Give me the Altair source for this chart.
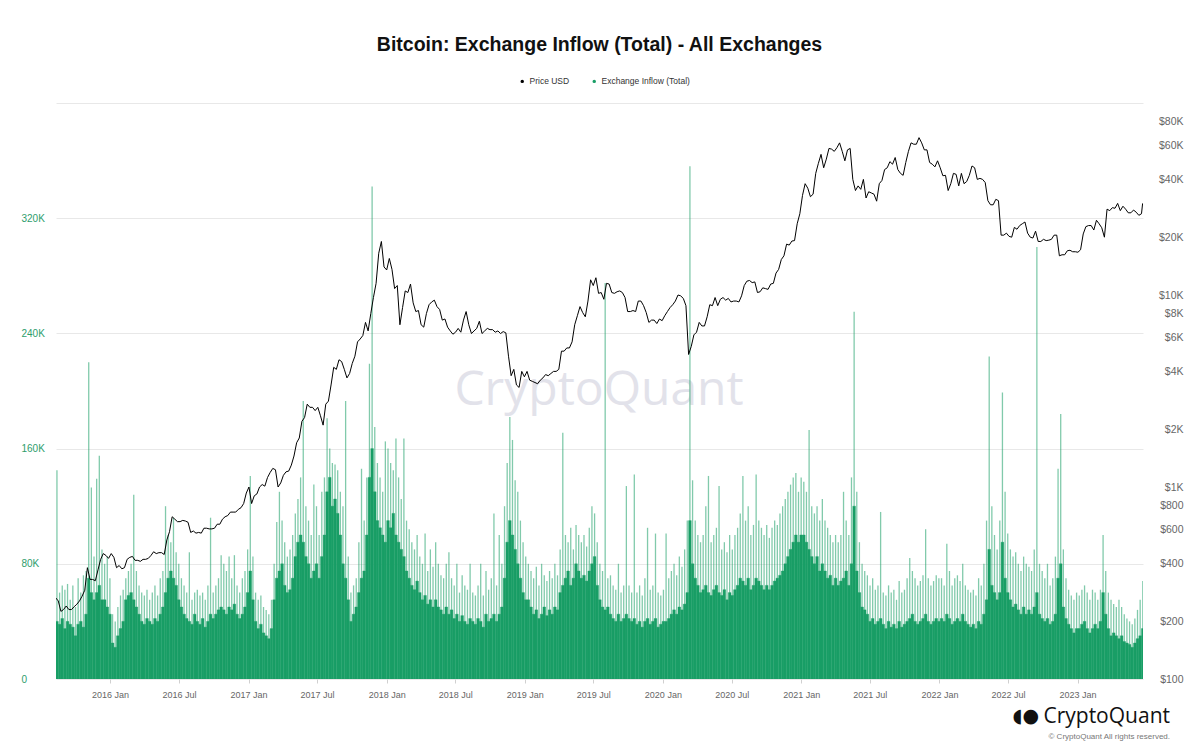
import altair as alt
import pandas as pd

# ---------------- data (weekly) ----------------
# Bitcoin price, USD, one value per Monday
PRICE_2015 = [265, 255, 225, 230, 240, 230, 230, 238, 245, 255, 270, 290, 380, 330, 330, 325, 370, 420, 450, 440, 425]
PRICE_2016 = [450, 430, 380, 390, 375, 380, 420, 430, 435, 415, 415, 410, 420, 420, 425, 440, 460,
              450, 455, 455, 445, 530, 585, 700, 680, 660, 660, 670, 665, 655, 580, 590, 575, 580, 575,
              610, 610, 605, 605, 610, 640, 640, 680, 700, 710, 740, 740, 740, 765, 780, 820, 930]
PRICE_2017 = [1000, 820, 900, 920, 1000, 1030, 1010, 1120, 1190, 1250, 1230, 1000, 1050, 1150, 1200, 1210, 1300,
              1450, 1700, 1800, 2200, 2300, 2700, 2600, 2600, 2500, 2600, 2350, 2100, 2700, 2800,
              3400, 4200, 4100, 4600, 4500, 4100, 3700, 3900, 4400, 4800, 5700, 5900, 6150,
              7200, 6500, 8000, 9700, 11500, 16500, 19000, 14000]
PRICE_2018 = [13500, 15500, 13600, 10800, 11200, 7000, 8600, 10500, 10300, 11400, 9100, 8200, 8300,
              7000, 6800, 8000, 8900, 9200, 9400, 8700, 8400, 7400, 7500, 6800, 6500, 6250,
              6400, 6700, 6400, 7400, 8200, 7000, 6300, 6500, 6700, 7300, 6300, 6500, 6700,
              6600, 6600, 6400, 6500, 6300, 6450, 6350, 4800, 3800, 4100, 3400, 3300, 4000, 3750]
PRICE_2019 = [4000, 3600, 3550, 3500, 3450, 3600, 3700, 3850, 3800, 3900, 4000, 4000,
              4100, 5100, 5100, 5300, 5300, 5700, 7000, 7800, 8700, 8100, 7700, 9300, 12000,
              11200, 12300, 10200, 10300, 9500, 11500, 11400, 10300, 10200, 10400, 10500, 10300, 9700, 8200,
              8200, 8300, 8200, 9300, 9300, 8800, 8100, 7200, 7400, 7400, 7100, 7500, 7350]
PRICE_2020 = [7800, 8200, 8600, 8900, 9300, 10000, 9900, 9600, 8800, 4900, 5400, 6200, 6400,
              7200, 6900, 6900, 7700, 8900, 8800, 9700, 8800, 9500, 9700, 9400, 9600, 9200,
              9300, 9300, 9200, 9900, 11200, 11800, 11900, 11600, 11700, 10300, 10400, 10900, 10800,
              10700, 11400, 11500, 13000, 13600, 15300, 16000, 18400, 18200, 19100, 19200, 23500, 26500]
PRICE_2021 = [33000, 38000, 36000, 32500, 33500, 43000, 48500, 54000, 46000, 51000, 58000, 57500, 56000,
              58500, 62000, 56000, 50000, 57000, 58000, 40000, 35000, 37000, 35500, 40000, 32000, 34500,
              34000, 33500, 30800, 38000, 39500, 45000, 46000, 49500, 48000, 52000, 45000, 43000, 42000,
              49000, 56000, 62000, 61000, 61000, 66000, 62000, 57000, 57000, 49000, 48000, 46500, 50000]
PRICE_2022 = [46000, 41800, 42000, 35000, 38000, 43000, 42500, 37000, 43000, 38000, 39000, 42000, 47000,
              46000, 40000, 40500, 40000, 38500, 31000, 29500, 29500, 31500, 31000, 20500, 20500, 21000,
              20200, 20000, 22500, 22000, 23000, 23500, 24000, 21000, 20000, 19800, 21500, 19000, 19000,
              19500, 19200, 19300, 19500, 20500, 20500, 16000, 16200, 16200, 17000, 17100, 16800, 16800]
PRICE_2023 = [16700, 17200, 20800, 22700, 23000, 23000, 21800, 24500, 23500, 22400, 20000, 28000, 27500,
              28500, 28300, 30000, 27500, 29000, 28000, 26800, 26800, 27700, 27000, 26000, 26500]
PRICE_LAST_DAY = "2023-06-22"
PRICE_LAST = 30000

# Exchange inflow, thousand BTC: typical daily level of the week and the week's largest day
BASE_2015 = [40, 38, 42, 35, 40, 38, 36, 30, 38, 40, 36, 45, 70, 60, 55, 60, 65, 55, 55, 50, 45]
PEAK_2015 = [145, 60, 65, 62, 66, 55, 65, 50, 70, 60, 72, 75, 220, 133, 85, 139, 155, 90, 80, 85, 70]
BASE_2016 = [25, 22, 30, 35, 40, 55, 58, 60, 55, 50, 45, 40, 38, 42, 40, 38, 42, 40, 45, 50, 60, 70, 75, 70, 65, 55,
             50, 45, 42, 40, 38, 45, 40, 38, 42, 36, 40, 45, 42, 45, 48, 50, 48, 45, 50, 48, 52, 45, 42, 45, 50, 60]
PEAK_2016 = [45, 40, 50, 58, 62, 70, 75, 80, 128, 75, 65, 60, 58, 62, 55, 60, 65, 58, 70, 75, 120, 100, 95, 112, 88, 80,
             70, 65, 60, 88, 55, 60, 62, 58, 60, 55, 65, 112, 60, 65, 70, 86, 80, 75, 85, 70, 86, 65, 60, 70, 75, 90]
BASE_2017 = [75, 55, 40, 35, 38, 32, 30, 28, 35, 55, 70, 75, 80, 65, 60, 62, 70, 85, 95, 100, 95, 85, 80, 70, 75, 80,
             70, 85, 100, 130, 140, 120, 125, 115, 100, 80, 70, 55, 40, 45, 50, 60, 70, 75, 100, 140, 160, 130, 110, 105, 100, 95]
PEAK_2017 = [141, 85, 60, 55, 58, 50, 48, 45, 55, 80, 109, 130, 110, 95, 85, 90, 100, 115, 125, 140, 193, 120, 110, 100, 135, 120,
             100, 130, 140, 181, 160, 150, 149, 145, 130, 120, 193, 85, 60, 65, 70, 95, 146, 110, 140, 219, 342, 175, 150, 140, 130, 165]
BASE_2018 = [110, 105, 115, 100, 95, 90, 85, 75, 70, 65, 62, 68, 60, 55, 58, 52, 55, 50, 55, 50, 48, 45, 50, 45, 48, 42, 45,
             40, 44, 40, 38, 42, 40, 38, 42, 40, 36, 45, 40, 42, 45, 40, 45, 50, 70, 95, 110, 100, 90, 80, 70, 60, 55]
PEAK_2018 = [160, 150, 145, 167, 140, 125, 167, 110, 104, 95, 90, 100, 85, 80, 101, 75, 90, 78, 95, 80, 72, 70, 80, 88, 70, 65, 80,
             60, 72, 65, 62, 80, 60, 58, 65, 80, 58, 75, 62, 70, 115, 65, 100, 80, 120, 150, 182, 166, 138, 130, 110, 95, 85]
BASE_2019 = [55, 50, 45, 48, 42, 45, 50, 44, 48, 45, 50, 48, 60, 65, 70, 75, 65, 70, 80, 75, 70, 72, 68, 75, 80, 85,
             65, 55, 50, 48, 50, 45, 42, 40, 45, 40, 42, 45, 42, 40, 42, 38, 40, 36, 40, 42, 38, 40, 42, 36, 38, 40]
PEAK_2019 = [80, 75, 70, 78, 65, 80, 72, 68, 75, 70, 80, 72, 90, 171, 100, 95, 105, 90, 107, 100, 95, 100, 92, 105, 120, 115,
             95, 80, 75, 275, 70, 72, 65, 62, 80, 60, 65, 134, 65, 60, 142, 60, 65, 58, 70, 105, 62, 65, 101, 60, 58, 62]
BASE_2020 = [40, 42, 45, 48, 45, 50, 48, 52, 60, 110, 80, 70, 65, 60, 62, 65, 60, 58, 62, 65, 60, 58, 62, 55, 60, 58,
             62, 65, 70, 68, 65, 70, 62, 65, 70, 68, 65, 62, 65, 62, 65, 68, 70, 72, 75, 80, 85, 90, 95, 100, 95, 100]
PEAK_2020 = [101, 70, 75, 80, 72, 85, 78, 90, 110, 356, 138, 110, 100, 95, 100, 120, 141, 95, 100, 105, 134, 90, 95, 88, 100, 90,
             100, 105, 115, 141, 110, 120, 100, 107, 142, 110, 105, 100, 107, 98, 105, 110, 107, 115, 120, 125, 130, 135, 140, 143, 130, 140]
BASE_2021 = [100, 95, 90, 85, 80, 85, 75, 80, 75, 70, 72, 65, 70, 65, 68, 70, 75, 65, 80, 120, 75, 60, 50, 48, 45, 40,
             42, 38, 40, 42, 38, 35, 40, 36, 38, 35, 40, 36, 38, 40, 42, 45, 40, 38, 40, 42, 45, 40, 38, 40, 42, 40]
PEAK_2021 = [137, 130, 173, 120, 115, 120, 110, 125, 110, 105, 100, 95, 100, 95, 100, 130, 110, 100, 140, 255, 130, 95, 80, 75, 72, 65,
             70, 62, 65, 116, 60, 58, 65, 60, 62, 55, 68, 60, 62, 70, 84, 75, 70, 65, 68, 72, 104, 70, 65, 68, 72, 70]
BASE_2022 = [42, 40, 45, 42, 38, 40, 42, 40, 45, 40, 38, 36, 38, 35, 40, 38, 45, 55, 90, 65, 60, 55, 60, 95, 70, 60,
             55, 50, 52, 48, 45, 50, 45, 48, 45, 50, 60, 45, 42, 40, 42, 38, 40, 45, 70, 80, 50, 42, 38, 35, 32, 35]
PEAK_2022 = [70, 65, 94, 75, 65, 70, 72, 68, 80, 65, 62, 60, 62, 58, 70, 65, 80, 110, 224, 120, 100, 90, 110, 199, 130, 101,
             90, 85, 88, 80, 75, 85, 80, 78, 75, 90, 300, 80, 75, 70, 80, 65, 70, 85, 146, 184, 90, 70, 62, 58, 55, 60]
BASE_2023 = [35, 38, 40, 35, 32, 35, 38, 35, 40, 60, 45, 35, 30, 32, 30, 28, 30, 26, 25, 24, 22, 25, 28, 30, 35]
PEAK_2023 = [58, 62, 65, 60, 55, 62, 60, 55, 62, 100, 75, 60, 55, 52, 50, 55, 50, 45, 42, 40, 38, 42, 48, 55, 68]

FIRST_WEEK = "2015-08-10"
LAST_WEEK = "2023-06-19"
X_START = (2015, 8, 11)
X_END = (2023, 6, 23)

LEFT_TICKS = [0, 80000, 160000, 240000, 320000, 400000]
RIGHT_TICKS = [100, 200, 400, 600, 800, 1000, 2000, 4000, 6000, 8000,
               10000, 20000, 40000, 60000, 80000]

TITLE = "Bitcoin: Exchange Inflow (Total) - All Exchanges"
SERIES = ["Price USD", "Exchange Inflow (Total)"]
WATERMARK = "CryptoQuant"
LOGO = "CryptoQuant"
COPYRIGHT = "© CryptoQuant All rights reserved."

# ---------------- build tables ----------------
YEARS = {
    2015: (PRICE_2015, BASE_2015, PEAK_2015), 2016: (PRICE_2016, BASE_2016, PEAK_2016),
    2017: (PRICE_2017, BASE_2017, PEAK_2017), 2018: (PRICE_2018, BASE_2018, PEAK_2018),
    2019: (PRICE_2019, BASE_2019, PEAK_2019), 2020: (PRICE_2020, BASE_2020, PEAK_2020),
    2021: (PRICE_2021, BASE_2021, PEAK_2021), 2022: (PRICE_2022, BASE_2022, PEAK_2022),
    2023: (PRICE_2023, BASE_2023, PEAK_2023),
}
rows = []
for year, (pr, ba, pk) in YEARS.items():
    mondays = pd.date_range(f"{year}-01-01", f"{year}-12-31", freq="W-MON")
    mondays = mondays[(mondays >= FIRST_WEEK) & (mondays <= LAST_WEEK)]
    for d, p, b, k in zip(mondays, pr, ba, pk):
        rows.append({"date": d, "end": d + pd.Timedelta(days=7), "mid": d + pd.Timedelta(hours=84),
                     "price": p, "base": b * 1000, "peak": k * 1000})
bars = pd.DataFrame(rows)
line = pd.concat([bars[["date", "price"]],
                  pd.DataFrame({"date": [pd.Timestamp(PRICE_LAST_DAY)], "price": [PRICE_LAST]})],
                 ignore_index=True)

# ---------------- styling ----------------
GREEN = "#199e66"
FONT = "Liberation Sans"

xscale = alt.Scale(domain=[alt.DateTime(year=X_START[0], month=X_START[1], date=X_START[2]),
                           alt.DateTime(year=X_END[0], month=X_END[1], date=X_END[2])],
                   nice=False, padding=0)
xaxis = alt.Axis(title=None, format="%Y %b", tickCount={"interval": "month", "step": 6},
                 grid=False, domain=False, ticks=True, tickSize=4, tickColor="#d0d0d0",
                 labelPadding=7, labelFontSize=9, labelColor="#666666", labelFont=FONT)
yl_scale = alt.Scale(domain=[0, 400000], nice=False, padding=0)
yl_axis = alt.Axis(title=None, orient="left", values=LEFT_TICKS,
                   labelExpr="datum.value >= 400000 ? '' : (datum.value == 0 ? '0' : (datum.value / 1000) + 'K')",
                   grid=True, gridColor="#e8e8e8", gridWidth=1, domain=False, ticks=False, tickSize=0,
                   labelAlign="left", labelBaseline="middle", labelPadding=35,
                   labelFontSize=10, labelColor="#2e9d6c", labelFont=FONT)
yr_scale = alt.Scale(type="log", domain=[100, 100000], nice=False)
yr_axis = alt.Axis(title=None, orient="right", values=RIGHT_TICKS,
                   labelExpr="datum.value >= 1000 ? '$' + (datum.value / 1000) + 'K' : '$' + datum.value",
                   grid=False, domain=False, ticks=False, tickSize=0,
                   labelAlign="right", labelBaseline="middle", labelPadding=40,
                   labelFontSize=10.5, labelColor="#666666", labelFont=FONT)
cscale = alt.Scale(domain=SERIES, range=["#000000", GREEN])
legend = alt.Legend(title=None, orient="none", legendX=462, legendY=-26, direction="horizontal",
                    symbolType="circle", symbolSize=12, symbolStrokeWidth=0, symbolOpacity=1,
                    labelFontSize=8.5, labelColor="#333333", labelFont=FONT, columnPadding=20,
                    labelOffset=3)

title = alt.Chart(pd.DataFrame({"t": [TITLE]})).mark_text(
    font=FONT, fontSize=19.5, fontWeight="bold", color="#111111", align="center", baseline="middle"
).encode(text="t:N", x=alt.value(543.5), y=alt.value(-58))

watermark = alt.Chart(pd.DataFrame({"t": [WATERMARK]})).mark_text(
    font="Open Sans", fontSize=48, color="#e2e2ea", align="center", baseline="middle"
).encode(text="t:N", x=alt.value(543), y=alt.value(288))

peaks = alt.Chart(bars).mark_bar(color=GREEN, opacity=0.55, size=1.3, clip=True).encode(
    x=alt.X("mid:T", scale=xscale, axis=xaxis),
    y=alt.Y("peak:Q", scale=yl_scale, axis=yl_axis),
)
bases = alt.Chart(bars).mark_bar(stroke=GREEN, strokeWidth=0.4, clip=True).encode(
    x=alt.X("date:T", scale=xscale, axis=xaxis),
    x2="end:T",
    y=alt.Y("base:Q", scale=yl_scale, axis=yl_axis),
    y2=alt.datum(0),
    color=alt.Color("series:N", scale=cscale, legend=legend),
).transform_calculate(series="'Exchange Inflow (Total)'")

price = alt.Chart(line).mark_line(strokeWidth=1, clip=True).encode(
    x=alt.X("date:T", scale=xscale, axis=xaxis),
    y=alt.Y("price:Q", scale=yr_scale, axis=yr_axis),
    color=alt.Color("series:N", scale=cscale, legend=legend),
).transform_calculate(series="'Price USD'")

logo = alt.Chart(pd.DataFrame({"t": [LOGO]})).mark_text(
    font="Open Sans", fontSize=21, color="#111111", align="right", baseline="alphabetic"
).encode(text="t:N", x=alt.value(1114), y=alt.value(620))
icon = alt.Chart(pd.DataFrame({"t": ["◖●"]})).mark_text(
    font="DejaVu Sans", fontSize=19, color="#111111", align="right", baseline="alphabetic"
).encode(text="t:N", x=alt.value(983), y=alt.value(619))
copyright_ = alt.Chart(pd.DataFrame({"t": [COPYRIGHT]})).mark_text(
    font=FONT, fontSize=8, color="#777777", align="right", baseline="alphabetic"
).encode(text="t:N", x=alt.value(1114), y=alt.value(636))

chart = alt.layer(
    watermark, alt.layer(peaks, bases), price, title, logo, icon, copyright_
).resolve_scale(y="independent").properties(
    width=1087, height=576,
    autosize=alt.AutoSizeParams(type="none"),
    padding={"left": 48, "top": 95, "right": 49, "bottom": 69},
    background="white",
).configure_view(stroke=None)

chart.save("out.html", embed_options={"renderer": "svg", "actions": False})
